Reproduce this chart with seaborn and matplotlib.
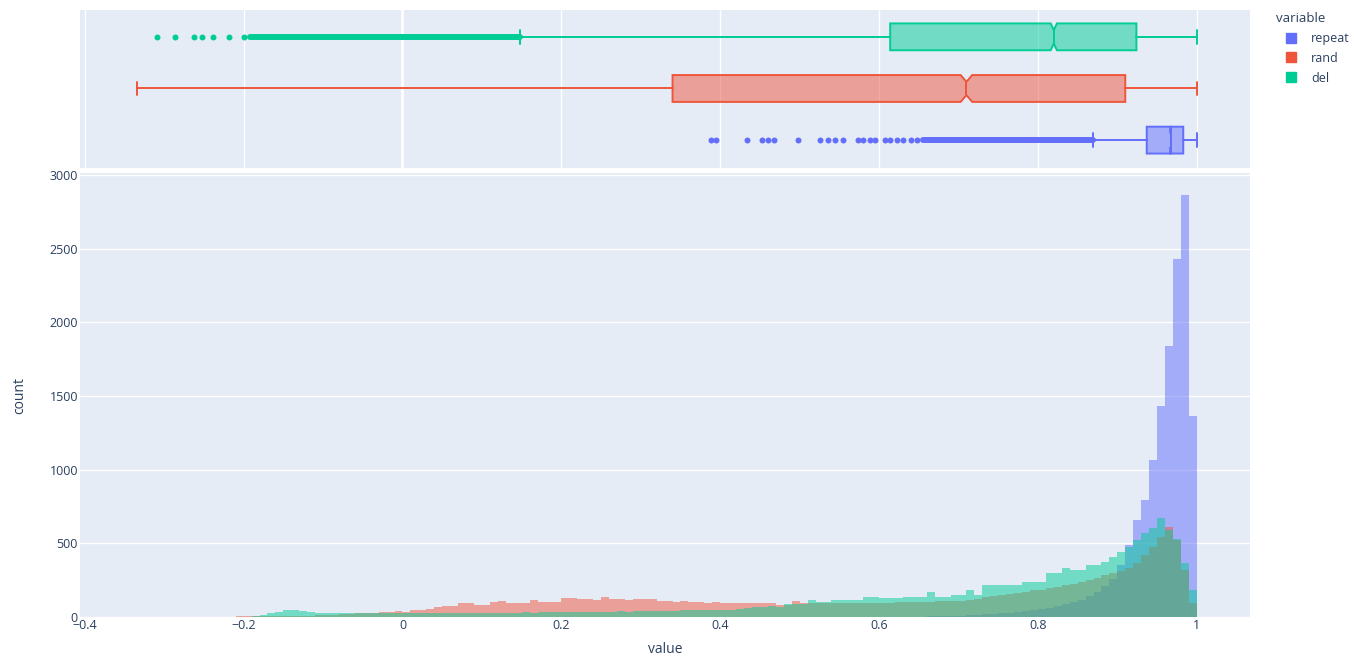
import numpy as np
import pandas as pd
import matplotlib
matplotlib.use("Agg")
import matplotlib.pyplot as plt
from matplotlib.lines import Line2D
import seaborn as sns

## ===================== values =====================

series = ["repeat", "rand", "del"]
colors = ["#636EFA", "#EF553B", "#00CC96"]

# histogram bins of width 0.01 from -0.40 to 1.00 (one row per 0.1)
bin_edges = np.round(np.arange(-40, 101) / 100, 2)

repeat_counts = [
    0, 0, 0, 0, 0, 0, 0, 0, 0, 0,
    0, 0, 0, 0, 0, 0, 0, 0, 0, 0,
    0, 0, 0, 0, 0, 0, 0, 0, 0, 0,
    0, 0, 0, 0, 0, 0, 0, 0, 0, 0,
    0, 0, 0, 0, 0, 0, 0, 0, 0, 0,
    0, 0, 0, 0, 0, 0, 0, 0, 0, 0,
    0, 0, 0, 0, 0, 0, 0, 0, 0, 0,
    0, 0, 0, 0, 0, 0, 0, 0, 0, 2,
    0, 0, 0, 1, 0, 2, 1, 0, 0, 1,
    0, 0, 1, 1, 1, 1, 0, 1, 2, 1,
    2, 1, 2, 1, 2, 3, 4, 5, 6, 8,
    10, 12, 14, 17, 20, 24, 28, 33, 40, 46,
    55, 63, 74, 86, 100, 118, 140, 170, 210, 260,
    350, 489, 659, 794, 1066, 1430, 1840, 2430, 2865, 1365,
]

rand_counts = [
    0, 0, 0, 0, 0, 0, 1, 0, 1, 1,
    1, 2, 1, 2, 2, 3, 2, 3, 3, 4,
    4, 5, 5, 6, 6, 7, 8, 9, 10, 12,
    14, 16, 18, 21, 24, 27, 30, 33, 36, 40,
    35, 48, 50, 52, 70, 72, 75, 93, 95, 80,
    82, 100, 107, 93, 95, 92, 115, 100, 102, 100,
    130, 128, 120, 122, 118, 138, 120, 122, 118, 120,
    121, 125, 107, 108, 105, 106, 100, 102, 98, 100,
    93, 95, 92, 94, 93, 96, 92, 80, 82, 107,
    93, 95, 92, 94, 96, 93, 95, 97, 98, 96,
    95, 98, 100, 99, 102, 104, 103, 106, 108, 110,
    112, 118, 125, 135, 142, 150, 158, 165, 172, 180,
    185, 195, 205, 215, 225, 238, 250, 265, 285, 300,
    310, 335, 366, 420, 475, 543, 611, 522, 320, 95,
]

del_counts = [
    0, 0, 0, 0, 0, 0, 0, 0, 0, 1,
    0, 1, 0, 1, 1, 0, 1, 0, 1, 0,
    2, 8, 15, 25, 35, 48, 45, 40, 35, 30,
    28, 25, 25, 27, 26, 27, 25, 27, 26, 27,
    27, 26, 28, 27, 27, 26, 28, 27, 29, 28,
    28, 29, 30, 29, 30, 31, 30, 32, 33, 34,
    35, 34, 36, 35, 37, 35, 36, 38, 37, 39,
    40, 41, 42, 43, 44, 45, 46, 47, 48, 48,
    48, 50, 55, 60, 65, 70, 72, 70, 88, 88,
    90, 115, 100, 100, 115, 115, 117, 115, 133, 133,
    130, 130, 132, 135, 137, 137, 170, 133, 135, 150,
    150, 183, 150, 217, 215, 218, 220, 217, 238, 238,
    240, 298, 300, 333, 320, 320, 353, 353, 373, 407,
    441, 475, 522, 570, 604, 672, 590, 530, 366, 183,
]

# marginal box plots (repeat, rand, del)
box_q1 = [0.937, 0.340, 0.614]
box_med = [0.967, 0.710, 0.820]
box_q3 = [0.983, 0.910, 0.924]
box_lo = [0.869, -0.334, 0.148]
box_hi = [1.0, 1.0, 1.0]

repeat_outliers = [0.389, 0.395, 0.434, 0.452, 0.460, 0.468, 0.498, 0.526, 0.536,
                   0.545, 0.555, 0.573, 0.580, 0.588, 0.595, 0.607, 0.614, 0.622,
                   0.630, 0.640, 0.648]
rand_outliers = []
del_outliers = [-0.309, -0.286, -0.262, -0.252, -0.238, -0.218, -0.199]
# ranges where outlier points are packed into a solid run
repeat_dense = [0.655, 0.869]
rand_dense = None
del_dense = [-0.192, 0.148]

x_ticks = [-0.4, -0.2, 0, 0.2, 0.4, 0.6, 0.8, 1]
x_tick_labels = ["\u22120.4", "\u22120.2", "0", "0.2", "0.4", "0.6", "0.8", "1"]
y_ticks = [0, 500, 1000, 1500, 2000, 2500, 3000]

## ===================== style =====================

sns.set_theme(style="white")
plt.rcParams["font.family"] = ["Open Sans", "DejaVu Sans"]
text_color = "#2a3f5f"
bg = "#E5ECF6"

W, H = 1354, 660
fig = plt.figure(figsize=(W / 100, H / 100), dpi=100)
fig.patch.set_facecolor("white")

ax_box = fig.add_axes([80 / W, 1 - 168 / H, 1170 / W, 158 / H])
ax_hist = fig.add_axes([80 / W, 1 - 617 / H, 1170 / W, 444 / H])

for ax in (ax_box, ax_hist):
    ax.set_facecolor(bg)
    for s in ax.spines.values():
        s.set_visible(False)
    ax.set_axisbelow(True)
    ax.tick_params(length=0, colors=text_color, labelsize=9)

## ===================== histogram =====================

centers = bin_edges[:-1] + 0.005
all_counts = [repeat_counts, rand_counts, del_counts]
for name, counts, color in zip(series, all_counts, colors):
    frame = pd.DataFrame({"value": centers, "count": counts})
    sns.histplot(data=frame, x="value", weights="count", bins=list(bin_edges),
                 color=color, alpha=0.5, linewidth=0, ax=ax_hist)

ax_hist.set_xlim(-0.406, 1.067)
ax_hist.set_ylim(0, 3015)
ax_hist.set_yticks(y_ticks)
ax_hist.set_yticklabels([str(t) for t in y_ticks])
ax_hist.set_xticks(x_ticks)
ax_hist.set_xticklabels(x_tick_labels)
ax_hist.grid(axis="y", color="white", linewidth=1)
ax_hist.grid(axis="x", visible=False)
ax_hist.tick_params(axis="x", pad=1.5)
ax_hist.tick_params(axis="y", pad=1.5)
ax_hist.set_xlabel("value", color=text_color, fontsize=10, labelpad=7)
ax_hist.set_ylabel("count", color=text_color, fontsize=10, labelpad=16)

## ===================== marginal boxes =====================

outliers = [repeat_outliers, rand_outliers, del_outliers]
dense = [repeat_dense, rand_dense, del_dense]
stats = []
for i, counts in enumerate(all_counts):
    n = sum(counts)
    iqr = box_q3[i] - box_q1[i]
    half = 1.57 * iqr / np.sqrt(n)
    stats.append(dict(med=box_med[i], q1=box_q1[i], q3=box_q3[i],
                      whislo=box_lo[i], whishi=box_hi[i], fliers=[],
                      cilo=box_med[i] - half, cihi=box_med[i] + half))

positions = [0, 1, 2]
bp = ax_box.bxp(stats, positions=positions, widths=0.52, orientation="horizontal",
                shownotches=True, patch_artist=True, showfliers=False)
for i, color in enumerate(colors):
    bp["boxes"][i].set_facecolor(matplotlib.colors.to_rgba(color, 0.5))
    bp["boxes"][i].set_edgecolor(color)
    bp["boxes"][i].set_linewidth(1.4)
    bp["medians"][i].set_color(color)
    bp["medians"][i].set_linewidth(1.4)
    for j in (2 * i, 2 * i + 1):
        bp["whiskers"][j].set_color(color)
        bp["whiskers"][j].set_linewidth(1.4)
        bp["caps"][j].set_color(color)
        bp["caps"][j].set_linewidth(1.4)
    if outliers[i]:
        ax_box.plot(outliers[i], [positions[i]] * len(outliers[i]), "o",
                    color=color, markersize=4.3, markeredgewidth=0)
    if dense[i] is not None:
        ax_box.hlines(positions[i], dense[i][0], dense[i][1], color=color,
                      linewidth=4.3, capstyle="round")

ax_box.set_ylim(-0.54, 2.52)
ax_box.set_yticks([])
ax_box.set_xticks(x_ticks)
ax_box.set_xticklabels([])
ax_box.grid(axis="x", color="white", linewidth=1)
ax_box.grid(axis="y", visible=False)
ax_box.axvline(0, color="white", linewidth=2, zorder=0.5)
ax_box.set_xlim(-0.406, 1.067)

## ===================== legend =====================

handles = [Line2D([], [], marker="s", linestyle="", color=c, markersize=7)
           for c in colors]
leg = fig.legend(handles, series, title="variable", loc="upper left",
                 bbox_to_anchor=(1276 / W, 1 - 12 / H), frameon=False,
                 alignment="left", handlelength=2.4, handletextpad=0.4,
                 labelspacing=0.55, fontsize=9, title_fontsize=9.5,
                 borderpad=0, borderaxespad=0)
for t in leg.get_texts():
    t.set_color(text_color)
leg.get_title().set_color(text_color)

fig.savefig("out.png", dpi=100)
